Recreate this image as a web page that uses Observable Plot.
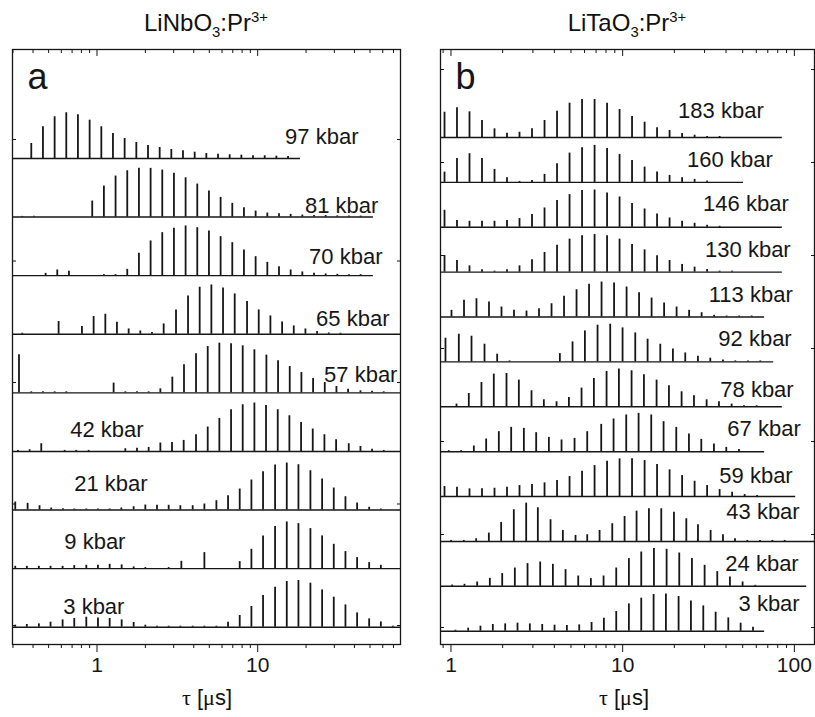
<!DOCTYPE html>
<html>
<head>
<meta charset="utf-8">
<script src="https://cdn.jsdelivr.net/npm/d3@7"></script>
<script src="https://cdn.jsdelivr.net/npm/@observablehq/plot@0.6"></script>
<style>
  body { margin: 0; background: #fff; }
  #wrap { position: relative; width: 815px; height: 717px; font-family: "Liberation Sans", Arial, sans-serif; color: #111; }
  #wrap svg { position: absolute; top: 0; }
  .title { position: absolute; top: 11px; font-size: 24px; line-height: 24px; transform: translateX(-50%); white-space: nowrap; }
  .title sub, .title sup { font-size: 0.62em; position: relative; vertical-align: baseline; line-height: 0; }
  .title sub { top: 0.42em; }
  .title sup { top: -0.62em; }
  .xlab { position: absolute; top: 687px; font-size: 22px; line-height: 22px; transform: translateX(-50%); white-space: nowrap; }
  .sym { font-family: "Liberation Serif", "DejaVu Serif", serif; }
</style>
</head>
<body>
<div id="wrap">
  <div class="title" style="left:206px">LiNbO<sub>3</sub>:Pr<sup>3+</sup></div>
  <div class="title" style="left:627px">LiTaO<sub>3</sub>:Pr<sup>3+</sup></div>
  <div class="xlab" style="left:207px"><span class="sym">τ</span> [<span class="sym">μ</span>s]</div>
  <div class="xlab" style="left:624px"><span class="sym">τ</span> [<span class="sym">μ</span>s]</div>
</div>
<script>
// ---------- Panel a: LiNbO3:Pr3+ ----------
const nbLabels = ["97 kbar", "81 kbar", "70 kbar", "65 kbar", "57 kbar", "42 kbar", "21 kbar", "9 kbar", "3 kbar"];
const nbTau = [
  [0.390,0.461,0.545,0.644,0.761,0.900,1.064,1.257,1.486,1.757,2.077,2.455,2.901,3.429,4.054,4.791,5.663,6.694,7.913,9.353,11.06,13.07,15.45],
  [0.343,0.405,0.934,1.104,1.305,1.543,1.824,2.156,2.548,3.012,3.560,4.208,4.974,5.879,6.949,8.214,9.709,11.48,13.57,16.04,18.96,22.41,26.49,31.31,37.0,43.7],
  [0.479,0.566,0.669,1.104,1.305,1.543,1.824,2.156,2.548,3.012,3.560,4.208,4.974,5.879,6.949,8.214,9.709,11.48,13.57,16.04,18.96,22.41,26.49,31.31,37.0,43.7],
  [0.343,0.577,0.806,0.953,1.127,1.331,1.574,1.860,2.199,2.600,3.103,3.686,4.356,5.150,6.086,7.195,8.586,10.15,12.00,14.19,16.77,19.82,23.43,27.70,32.73],
  [0.327,0.390,0.461,0.545,0.644,1.269,1.501,1.774,2.097,2.479,2.943,3.479,4.133,4.887,5.774,6.828,8.069,9.539,11.33,13.39,15.83,18.71,22.12,26.15,30.91,36.53,43.6,51.5,60.9],
  [0.322,0.381,0.450,0.629,0.743,0.887,1.501,1.774,2.097,2.479,2.929,3.463,4.133,4.887,5.774,6.828,8.069,9.539,11.27,13.33,15.75,18.62,22.01,26.02,30.76,36.88,43.6,51.5,60.9],
  [0.310,0.370,0.439,0.519,0.614,0.722,0.858,1.014,1.199,1.417,1.691,1.999,2.363,2.793,3.302,3.940,4.659,5.534,6.540,7.730,9.140,10.80,12.83,15.17,17.93,21.29,25.17,29.75,35.17,41.57,49.4,58.4],
  [0.310,0.366,0.435,0.514,0.611,0.722,0.858,1.014,1.199,1.424,1.691,1.999,2.793,3.349,4.659,7.730,9.140,10.80,12.83,15.17,17.93,21.29,25.17,29.75,35.17,41.57,49.4,58.4],
  [0.310,0.366,0.435,0.514,0.611,0.722,0.858,1.014,1.199,1.424,1.691,1.999,2.363,2.793,3.302,3.940,4.659,5.534,6.540,7.730,9.140,10.80,12.83,15.17,17.93,21.29,25.17,29.75,35.17,41.57,49.4,58.4,69.3]
];
const nbAmp = [
  [15,31.7,41.7,45.7,43.7,38.3,31.7,25,20,16,13,11,9,7.7,6.3,5,4.3,3.7,3.3,2.7,2.7,2.3,2],
  [0.7,0.7,16,31,41,46.3,48.7,48.7,47,43.7,39.3,33,26,19.7,13.7,9.3,6,4,3.3,2.7,2,1.5,1.5,1.2,1,1],
  [2.3,5.7,4.3,1,1,6.3,22.3,34.7,43,47.4,49.7,48,44.7,39,33,25.7,19,13.3,9,5.7,3.7,2.3,1.7,1.3,1,1],
  [1,12.7,7.7,17.7,20,12,5.3,3.3,1.7,10.3,24.3,38.3,47,49.3,46.3,40.3,32.7,24.3,18.3,12.3,8.3,5.3,2.7,1.3,1],
  [38,1,1,1,1,9.7,1,1,1,4,15.7,28,39,46.3,49.7,49,47,43,37.7,32,26.3,20.3,14.3,10.3,6.3,3.7,2,1.5,1],
  [1,1.7,7.7,1,1,1,2.7,3.3,4,8.4,9,11,16.7,24.4,33,41.7,46.7,48.4,46,41.7,35.7,29,22.4,16.7,11.7,7.7,5,2.3,1],
  [8,6.7,4.3,2,1.3,1,1,1,1,2,3.3,5,4.7,4.7,4.3,4.3,6,9.3,14.3,21,30,38.3,45,47,45.3,39.3,31,22,13.3,7,2.7,1],
  [2.3,2.3,2.3,2.3,2.3,3,3.3,3.3,4.3,3.7,1.7,1,1,7.3,16,7,19.3,32.7,42,46.7,45,40,32.7,24.3,17,11,6,3.3],
  [2,2.7,3.3,5,7.3,8.7,10,9.3,8.7,7.3,4.7,2,1,1,1,1,1,1,5,11.7,20.7,31.7,40,45.7,46.7,44,37.3,30,22.3,14.3,8.3,5.3,1]
];
const nbLineEnd = [18.45, 52.5, 52.5, null, null, null, null, null, null];
const nbLabelTau = [42.4, 56.4, 59.8, 66.1, 74.1, 0.682, 0.722, 0.626, 0.617];
const nbLabelAnchor = ["end", "end", "end", "end", "end", "start", "start", "start", "start"];
const nbLabelLift = [14, 4, 12, 8.5, 11, 14, 19, 20, 13];
const nbMajorTicks = [1, 10];
const nbMinorTicks = [0.3, 0.4, 0.5, 0.6, 0.7, 0.8, 0.9, 2, 3, 4, 5, 6, 7, 8, 9, 20, 30, 40, 50, 60, 70];
const nbYTicks = [19, 140.5, 262, 383.5, 505];

// ---------- Panel b: LiTaO3:Pr3+ ----------
const taLabels = ["183 kbar", "160 kbar", "146 kbar", "130 kbar", "113 kbar", "92 kbar", "78 kbar", "67 kbar", "59 kbar", "43 kbar", "24 kbar", "3 kbar"];
const taTau = [
  [0.917,1.084,1.282,1.516,1.793,2.120,2.507,2.965,3.507,4.147,4.905,5.800,6.861,8.113,9.592,11.34,13.42,15.86,18.76,22.19,26.24,31.03,36.70],
  [0.917,1.084,1.282,1.516,1.793,2.120,2.507,2.965,3.507,4.147,4.905,5.800,6.861,8.113,9.592,11.34,13.42,15.86,18.76,22.19,26.24,31.03],
  [0.917,1.084,1.282,1.516,1.793,2.120,2.507,2.965,3.507,4.147,4.905,5.800,6.861,8.113,9.592,11.34,13.42,15.86,18.76,22.19,26.24,31.03,36.70],
  [0.917,1.084,1.282,1.516,1.793,2.120,2.507,2.965,3.507,4.147,4.905,5.800,6.861,8.113,9.592,11.34,13.42,15.86,18.76,22.19,26.24,31.03,36.70,43.40],
  [1.007,1.191,1.408,1.665,1.969,2.328,2.754,3.257,3.852,4.555,5.387,6.371,7.534,8.911,10.54,12.46,14.74,17.43,20.61,24.38,28.83,34.09,40.32,47.69,56.39],
  [0.929,1.111,1.317,1.568,1.858,2.192,4.307,5.106,6.025,7.140,8.463,9.986,11.84,13.97,16.56,19.62,23.15,27.44,32.38,38.38,45.29,53.69,63.33],
  [1.077,1.270,1.505,1.776,2.106,2.485,2.945,3.475,4.120,4.862,5.761,6.799,8.058,9.508,11.27,13.30,15.76,18.60,22.04,26.02,30.83,36.38,43.12,50.87,60.30],
  [0.971,1.146,1.359,1.603,1.900,2.242,2.658,3.135,3.717,4.405,5.245,6.216,7.501,8.851,10.49,12.38,14.67,17.31,20.52,24.32,28.70,34.01,40.13,47.58],
  [0.917,1.084,1.282,1.516,1.793,2.120,2.507,2.965,3.507,4.147,4.905,5.800,6.861,8.113,9.592,11.34,13.42,15.86,18.76,22.19,26.24,31.03,36.70,43.40,51.33,60.70],
  [1.002,1.188,1.402,1.662,1.960,2.323,2.742,3.206,3.801,4.484,5.314,6.216,7.336,8.697,10.26,12.05,14.22,16.78,19.89,23.48,27.45,32.53,38.39,45.11,53.21,63.07,74.4,87.8],
  [1.016,1.199,1.421,1.684,1.988,2.355,2.792,3.308,3.922,4.649,5.510,6.529,7.740,9.174,10.87,12.83,15.21,18.03,21.36,25.32,30.01,35.56,42.15,49.95,59.21],
  [1.062,1.259,1.485,1.753,2.069,2.441,2.880,3.400,4.011,4.732,5.584,6.589,7.775,9.174,10.87,12.83,15.14,17.86,21.17,24.98,29.48,34.79,41.23,48.65,57.41]
];
const taAmp = [
  [25.3,29.7,25.7,17,8.7,4.3,5.3,8.7,17,26.3,34.3,38,38,34.3,28,21,15.3,9.7,7,4,2.3,1,1],
  [10.3,24,28.7,24,13,4.7,1,2,8,18.7,29.3,34.7,37,34,28,22,15.3,10.3,7,4.7,3,1.3],
  [17,6.7,6,6,6,6.7,8.7,12.7,19.3,26.7,32.7,36.7,37.3,34.3,30.3,23.7,18.3,13.3,9.3,6,4,2,1],
  [16.7,11.7,6.3,2.3,1,2.3,6.3,12.3,19.7,27,33,36.3,37.7,36.3,33,27.7,22.3,16.3,11.7,7.7,5,2.7,1,1],
  [6.7,16.7,18.3,15,10,6.7,6,8.3,13.3,20.7,27.3,32.7,35,34,30,24.3,19,14,10,6.7,4.3,1.7,1,1,1],
  [23.7,27.7,25.7,17.7,7.7,1,8.3,20,31,36.7,37.7,34,29,22.7,17.7,13,9,5.7,3.7,2,1,1,1],
  [2.7,13.3,24.3,32.7,33.3,26.7,16,7,5,9.3,18.7,28.3,35.3,37.7,36,32,26.7,21,15,11,7,5,2.7,1,1],
  [1,1,5.7,12.7,20,24.3,23.3,19,14.3,11.7,13.3,20,27.3,32.7,36.7,38.3,36.7,30,24.3,17.7,12.3,7.7,4.3,2.3],
  [10,9.3,7.7,7.7,8.3,9.3,11,12,13.7,16,20,25.3,31,35.3,37.7,37.7,36,32,26.7,21,15.3,11,7,4.3,2,1],
  [1,1,2.7,8.3,19,31.7,38.3,33.7,21.7,11,6,6.7,11,17.7,25,30.3,32.7,32.7,29.3,22.7,16.7,11,6.7,2.7,1,1,1,1],
  [1.3,2,4.3,8,12.7,18.3,22.7,24.3,22,16.7,10.3,7.7,10.3,18.3,27.7,34.3,37.7,37,33.3,27.7,21,14.7,9.3,4.3,1],
  [1,3,5,6.7,7.3,8,7.3,6.7,6,5.7,6.3,8.7,13,19.7,27.3,33,36.7,37.3,34.7,30.3,25.3,19,13.3,8,4]
];
const taLineEnd = [85.1, 50.6, 85.1, 85.1, 67.1, 75.8, 85.1, 67.1, 101.8, null, 118, 67.1];
const taLabelTau = [66.3, 74.8, 92.7, 95.2, 97.8, 96.5, 99.1, 108.9, 97.8, 107.4, 106, 107.4];
const taLabelAnchor = taLabels.map(() => "end");
const taLabelLift = [20, 15, 16, 15, 15, 16, 10, 16, 14, 22, 15, 20];
const taMajorTicks = [1, 10, 100];
const taMinorTicks = [0.9, 2, 3, 4, 5, 6, 7, 8, 9, 20, 30, 40, 50, 60, 70, 80, 90];
const taYTicks = [17, 110, 203, 296, 389, 482, 575];

const INK = "#161616";

function panel(cfg) {
  const n = cfg.labels.length;
  const base = i => cfg.offset + cfg.pitch * (n - 1 - i);
  const sticks = cfg.labels.flatMap((lab, i) =>
    cfg.taus[i].map((t, j) => ({tau: t, y0: base(i), y1: base(i) + cfg.amps[i][j]})));
  const rows = cfg.labels.map((lab, i) => ({
    label: lab, y: base(i), x1: cfg.domain[0],
    x2: cfg.ends[i] == null ? cfg.domain[1] : cfg.ends[i],
    lx: cfg.labelTau[i], ly: base(i) + cfg.lift[i], anchor: cfg.anchor[i]
  }));
  const blank = () => "";
  return Plot.plot({
    width: cfg.width, height: 717,
    marginTop: 49, marginBottom: 73, marginLeft: cfg.ml, marginRight: cfg.mr,
    x: {type: "log", domain: cfg.domain, label: null},
    y: {domain: [0, 595], label: null},
    style: {fontFamily: "'Liberation Sans', Arial, sans-serif", color: INK, background: "transparent", overflow: "visible"},
    marks: [
      Plot.ruleY(rows, {y: "y", x1: "x1", x2: "x2", stroke: INK, strokeWidth: 1.4}),
      Plot.ruleX(sticks, {x: "tau", y1: "y0", y2: "y1", stroke: INK, strokeWidth: 1.8}),
      Plot.text(rows.filter(r => r.anchor === "end"), {x: "lx", y: "ly", text: "label", textAnchor: "end", lineAnchor: "bottom", fontSize: 22, fill: INK}),
      Plot.text(rows.filter(r => r.anchor === "start"), {x: "lx", y: "ly", text: "label", textAnchor: "start", lineAnchor: "bottom", fontSize: 22, fill: INK}),
      Plot.text([cfg.letter], {text: d => d, frameAnchor: "top-left", dx: 15, dy: 14, fontSize: 36, fill: INK}),
      Plot.axisX({anchor: "bottom", ticks: cfg.major, tickSize: 8, tickPadding: 5, fontSize: 21, label: null, tickFormat: d => String(d), stroke: INK, fill: INK}),
      Plot.axisX({anchor: "bottom", ticks: cfg.minor, tickSize: 4, tickFormat: blank, label: null, stroke: INK}),
      Plot.axisX({anchor: "top", ticks: cfg.major, tickSize: -6, tickFormat: blank, label: null, stroke: INK}),
      Plot.axisX({anchor: "top", ticks: cfg.minor, tickSize: -3, tickFormat: blank, label: null, stroke: INK}),
      Plot.axisY({anchor: "left", ticks: cfg.yTicks, tickSize: -4, tickFormat: blank, label: null, stroke: INK}),
      Plot.axisY({anchor: "right", ticks: cfg.yTicks, tickSize: -4, tickFormat: blank, label: null, stroke: INK}),
      Plot.frame({stroke: INK, strokeWidth: 1.3})
    ]
  });
}

const wrap = document.getElementById("wrap");

const left = panel({
  labels: nbLabels, taus: nbTau, amps: nbAmp, ends: nbLineEnd,
  labelTau: nbLabelTau, anchor: nbLabelAnchor, lift: nbLabelLift,
  major: nbMajorTicks, minor: nbMinorTicks, yTicks: nbYTicks,
  domain: [0.298, 77.4], width: 420, ml: 12, mr: 20,
  offset: 17.3, pitch: 58.59, letter: "a"
});
left.style.left = "0px";
wrap.appendChild(left);

const right = panel({
  labels: taLabels, taus: taTau, amps: taAmp, ends: taLineEnd,
  labelTau: taLabelTau, anchor: taLabelAnchor, lift: taLabelLift,
  major: taMajorTicks, minor: taMinorTicks, yTicks: taYTicks,
  domain: [0.869, 131], width: 385, ml: 10, mr: 1,
  offset: 13.3, pitch: 44.88, letter: "b"
});
right.style.left = "430px";
wrap.appendChild(right);

// keep the HTML titles above the SVGs
wrap.querySelectorAll(".title, .xlab").forEach(el => { el.style.zIndex = 2; });
</script>
</body>
</html>
